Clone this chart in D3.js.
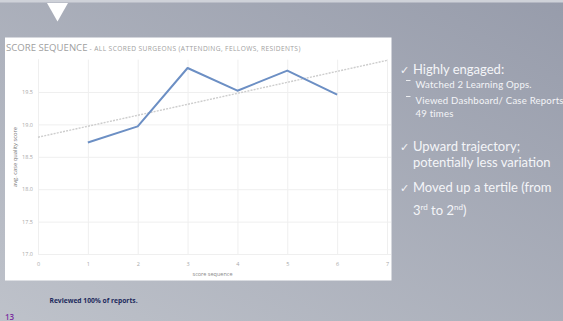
<!DOCTYPE html>
<html>
<head>
<meta charset="utf-8">
<script src="https://cdn.jsdelivr.net/npm/d3@7"></script>
<style>
  html, body { margin: 0; padding: 0; background: #a4a8b5; }
  svg { display: block; }
</style>
</head>
<body>
<svg id="slide" width="563" height="321"></svg>
<script>
// Score sequence for one surgeon
const sequence = [1, 2, 3, 4, 5, 6];
const scores = [18.72, 18.97, 19.87, 19.52, 19.83, 19.46];
const xTicks = [0, 1, 2, 3, 4, 5, 6, 7];
const yTicks = [17.0, 17.5, 18.0, 18.5, 19.0, 19.5];

const chartTitle = "SCORE SEQUENCE";
const chartSubtitle = " - ALL SCORED SURGEONS (ATTENDING, FELLOWS, RESIDENTS)";
const xTitle = "score sequence";
const yTitle = "avg. case quality score";
const footNote = "Reviewed 100% of reports.";
const pageNumber = "13";

const svg = d3.select("#slide");
const W = 563, H = 321;

// slide background
const defs = svg.append("defs");
const grad = defs.append("linearGradient")
  .attr("id", "bg").attr("x1", 0).attr("y1", 1).attr("x2", 1).attr("y2", 0);
grad.append("stop").attr("offset", 0).attr("stop-color", "#bec2ca");
grad.append("stop").attr("offset", 1).attr("stop-color", "#979cab");
svg.append("rect").attr("width", W).attr("height", H).attr("fill", "url(#bg)");
svg.append("rect").attr("width", W).attr("height", 2.5).attr("fill", "#cfd2d9");

// white notch at the top
svg.append("path")
  .attr("d", "M47,3 L68,3 L57.5,21.5 Z")
  .attr("fill", "#ffffff");

// chart panel
svg.append("rect")
  .attr("x", 5).attr("y", 37.5).attr("width", 386.5).attr("height", 243)
  .attr("fill", "#ffffff");

svg.append("text")
  .attr("x", 6).attr("y", 51)
  .attr("font-family", "'Open Sans', sans-serif")
  .attr("fill", "#a0a0a0")
  .call(t => {
    t.append("tspan").attr("font-size", 9.6).text(chartTitle);
    t.append("tspan").attr("font-size", 6.6).attr("letter-spacing", 0.4).text(chartSubtitle);
  });

const x = d3.scaleLinear().domain([0, 7]).range([38, 387]);
const y = d3.scaleLinear().domain([17, 19.5]).range([254, 92]);
const g = svg.append("g");

// grid
g.append("g")
  .attr("transform", `translate(0,${y(17)})`)
  .call(d3.axisBottom(x).tickValues(xTicks).tickSize(-(y(17) - y(20))).tickFormat(d3.format("d")).tickPadding(8))
  .call(a => a.select(".domain").attr("stroke", "#e4e4e4"))
  .call(a => a.selectAll(".tick line").attr("stroke", "#efefef"))
  .call(a => a.selectAll(".tick text").attr("fill", "#a8a8a8").attr("font-size", 5.5)
    .attr("font-family", "'Open Sans', sans-serif"));

g.append("g")
  .attr("transform", `translate(${x(0)},0)`)
  .call(d3.axisLeft(y).tickValues(yTicks).tickSize(-(x(7) - x(0) + 4)).tickFormat(d3.format(".1f")).tickPadding(5))
  .call(a => a.select(".domain").remove())
  .call(a => a.selectAll(".tick line").attr("stroke", "#efefef"))
  .call(a => a.selectAll(".tick text").attr("fill", "#a8a8a8").attr("font-size", 5.5)
    .attr("font-family", "'Open Sans', sans-serif"));

g.append("text")
  .attr("x", (x(0) + x(7)) / 2).attr("y", 276)
  .attr("text-anchor", "middle")
  .attr("font-family", "'Open Sans', sans-serif").attr("font-size", 5.5)
  .attr("fill", "#888").text(xTitle);

g.append("text")
  .attr("transform", `translate(17,157) rotate(-90)`)
  .attr("text-anchor", "middle")
  .attr("font-family", "'Open Sans', sans-serif").attr("font-size", 5.8)
  .attr("fill", "#777").text(yTitle);

// least-squares trend across the sequence
const mx = d3.mean(sequence), my = d3.mean(scores);
const slope = d3.sum(sequence, (s, i) => (s - mx) * (scores[i] - my)) /
              d3.sum(sequence, s => (s - mx) * (s - mx));
const icpt = my - slope * mx;
const trend = [0, 7].map(s => [s, icpt + slope * s]);

g.append("path")
  .datum(trend)
  .attr("d", d3.line().x(d => x(d[0])).y(d => y(d[1])))
  .attr("fill", "none")
  .attr("stroke", "#cdcdcd")
  .attr("stroke-width", 1.4)
  .attr("stroke-dasharray", "2,1.2");

g.append("path")
  .datum(sequence.map((s, i) => [s, scores[i]]))
  .attr("d", d3.line().x(d => x(d[0])).y(d => y(d[1])))
  .attr("fill", "none")
  .attr("stroke", "#6c8fc4")
  .attr("stroke-width", 2)
  .attr("stroke-linejoin", "round");

// bullet notes
const notes = svg.append("g")
  .attr("font-family", "Lato, 'Open Sans', sans-serif")
  .attr("fill", "#f4f5f8");

function check(yy) {
  notes.append("text").attr("x", 400).attr("y", yy)
    .attr("font-family", "'DejaVu Sans', sans-serif").attr("font-size", 11).text("\u2713");
}
function big(xx, yy, txt) {
  return notes.append("text").attr("x", xx).attr("y", yy).attr("font-size", 13).text(txt);
}
function small(yy, txt, dash) {
  if (dash) notes.append("rect").attr("x", 406).attr("y", yy - 8).attr("width", 4.5).attr("height", 0.9);
  notes.append("text").attr("x", 415.5).attr("y", yy).attr("font-size", 9.6)
    .attr("letter-spacing", 0.2).text(txt);
}

check(74); big(413, 74, "Highly engaged:");
small(88, "Watched 2 Learning Opps.", true);
small(104, "Viewed Dashboard/ Case Reports", true);
small(116.5, "49 times", false);
check(150.5); big(413, 150.5, "Upward trajectory;");
big(413, 167, "potentially less variation");
check(192); big(413, 192, "Moved up a tertile (from");
const last = big(413, 214.5, "");
last.append("tspan").text("3");
last.append("tspan").attr("font-size", 8).attr("dy", -4.8).text("rd");
last.append("tspan").attr("dy", 4.8).text(" to 2");
last.append("tspan").attr("font-size", 8).attr("dy", -4.8).text("nd");
last.append("tspan").attr("dy", 4.8).text(")");

// footer
svg.append("text")
  .attr("x", 49.5).attr("y", 302.5)
  .attr("font-family", "'Open Sans', sans-serif").attr("font-weight", "bold")
  .attr("font-size", 6.7).attr("fill", "#1d2a5c").text(footNote);
svg.append("text")
  .attr("x", 5).attr("y", 319.5)
  .attr("font-family", "'Open Sans', sans-serif").attr("font-weight", "600")
  .attr("font-size", 8).attr("fill", "#7a2fa0").text(pageNumber);
</script>
</body>
</html>
